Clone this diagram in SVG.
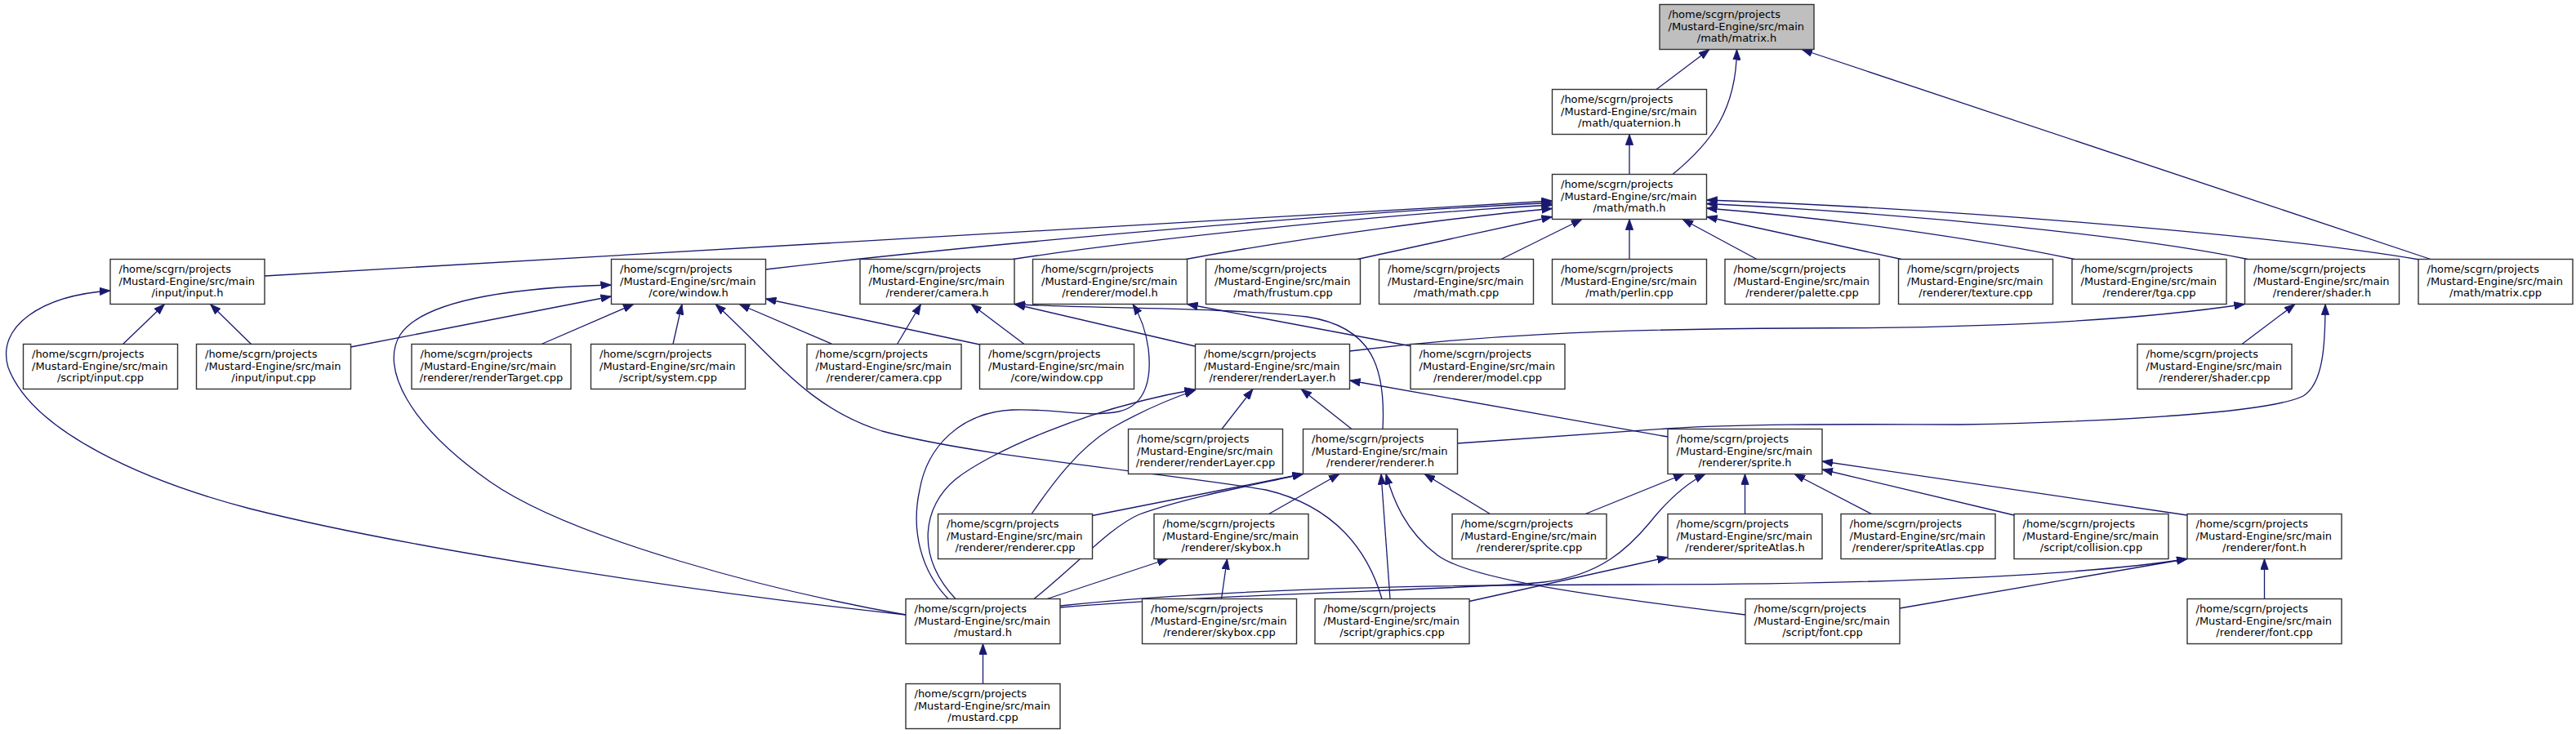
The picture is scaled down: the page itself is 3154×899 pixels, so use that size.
<svg xmlns="http://www.w3.org/2000/svg" width="3154" height="899" viewBox="0 0 3154 899">
<style>
.n rect{fill:#fff;stroke:#333;stroke-width:1.4}
.hl rect{fill:#bfbfbf}
.n text{font-family:"DejaVu Sans","Liberation Sans",sans-serif;font-size:13px;fill:#000}
.n text.c{text-anchor:middle}
#edges path{fill:none;stroke:#191970;stroke-width:1.3;marker-end:url(#ah)}
</style>
<defs>
<marker id="ah" viewBox="0 0 13 10" refX="13" refY="5" markerWidth="13" markerHeight="10" markerUnits="userSpaceOnUse" orient="auto">
<path d="M0,0.3 L13,5 L0,9.7 z" fill="#191970" stroke="#191970" stroke-width="0.8"/>
</marker>
</defs>
<rect width="3154" height="899" fill="#fff"/>
<g id="edges">
<path d="M2028,109.5 L2093,60.5"/>
<path d="M2048,213.5 C2095,175 2126,135 2126.5,60.5"/>
<path d="M2976,317.5 L2206,60.5"/>
<path d="M1995,213.5 L1995,164.5"/>
<path d="M324,338 L1900.5,246"/>
<path d="M937.5,330 C1150,305 1600,262 1900.5,248.5"/>
<path d="M1240,317.5 C1400,293 1700,262 1900.5,251"/>
<path d="M1452,317.5 C1600,290 1800,264 1900.5,255.5"/>
<path d="M1662,317.5 L1900.5,265.5"/>
<path d="M1838,317.5 L1937,268.5"/>
<path d="M1995,317.5 L1995,268.5"/>
<path d="M2151,317.5 L2060,268.5"/>
<path d="M2328,317.5 L2089.5,265.5"/>
<path d="M2540,317.5 C2420,292 2250,268 2089.5,255"/>
<path d="M2752,317.5 C2620,290 2350,262 2089.5,249.5"/>
<path d="M2962,318 C2800,290 2400,256 2089.5,245"/>
<path d="M150.5,421.5 L201.5,372.5"/>
<path d="M307.5,421.5 L257.5,372.5"/>
<path d="M1109,753 C850,725 500,672 306,623 C180,590 40,530 10,450 C-5,400 50,362 135,356"/>
<path d="M429.5,425 L748.5,363"/>
<path d="M663,421.5 L776,372.5"/>
<path d="M824,421.5 L835,372.5"/>
<path d="M1019,421.5 L905,372.5"/>
<path d="M1199.5,422 L937.5,366"/>
<path d="M1109,753 C950,725 700,660 600,590 C500,520 465,450 490,410 C520,365 640,352 748.5,349"/>
<path d="M1692,733.5 C1675,675 1635,620 1550,600 C1420,578 1200,560 1080,528 C990,500 950,440 876,372.5"/>
<path d="M1098.5,421.5 L1127.5,372.5"/>
<path d="M1254,421.5 L1189,372.5"/>
<path d="M1463,424 L1242,372.5"/>
<path d="M1693,525.5 C1697,450 1680,400 1600,388 C1500,376 1320,378 1242,372.5"/>
<path d="M1728,424 L1453.5,372.5"/>
<path d="M1161,733.5 C1128,700 1115,650 1126,600 C1135,548 1175,505 1240,502 C1290,500 1330,512 1370,504 C1405,496 1410,460 1406,427 C1403,405 1395,385 1387,372.5"/>
<path d="M1170,733.5 C1120,680 1130,620 1170,587 C1210,555 1330,500 1463.5,477"/>
<path d="M1263,629.5 C1290,590 1320,550 1360,525 C1400,502 1440,486 1463.5,478"/>
<path d="M1496,525.5 L1534,476.5"/>
<path d="M1655,525.5 L1593,476.5"/>
<path d="M2042,535 L1652.5,466"/>
<path d="M1652.5,430 C1800,412 1950,403 2200,402 C2450,402 2620,392 2748.5,372.5"/>
<path d="M1784.5,543 L2040,525 C2150,518 2300,520 2400,520 C2600,516 2780,505 2820,485 C2845,470 2847,420 2847,372.5"/>
<path d="M2745,421.5 L2810,372.5"/>
<path d="M1337.5,631.5 L1595.5,580.5"/>
<path d="M1266,733.5 C1320,690 1360,645 1395,630 C1450,610 1530,595 1595.5,580.5"/>
<path d="M1553.5,629.5 L1640,580.5"/>
<path d="M1702,733.5 L1691,580.5"/>
<path d="M2137,753 C1950,730 1800,710 1760,680 C1720,650 1705,610 1697,580.5"/>
<path d="M1824.5,629.5 L1744,580.5"/>
<path d="M1941,629.5 L2062,580.5"/>
<path d="M1298,744 C1500,727 1800,722 1890,713 C1960,705 1995,670 2020,640 C2040,615 2065,592 2088,580.5"/>
<path d="M1298,742 C1500,720 1800,716 2000,716 C2300,716 2550,705 2678,684.5"/>
<path d="M2136.5,629.5 L2136.5,580.5"/>
<path d="M2291.5,629.5 L2197,580.5"/>
<path d="M2466,631 L2231,575"/>
<path d="M2678,631 L2231,565"/>
<path d="M1799,736.5 L2042,682.5"/>
<path d="M2772.5,733.5 L2772.5,684.5"/>
<path d="M2326,745 L2678,684.5"/>
<path d="M1495.5,733.5 L1502.5,684.5"/>
<path d="M1282,733.5 L1430,684.5"/>
<path d="M1203.5,837.5 L1203.5,788.5"/>
</g>
<g id="matrix_h" class="n hl"><rect x="2032" y="5.5" width="189" height="55"/><text x="2042.5" y="22">/home/scgrn/projects</text><text x="2042.5" y="36.5">/Mustard-Engine/src/main</text><text class="c" x="2126.5" y="51">/math/matrix.h</text></g>
<g id="quaternion_h" class="n"><rect x="1900.5" y="109.5" width="189" height="55"/><text x="1911" y="126">/home/scgrn/projects</text><text x="1911" y="140.5">/Mustard-Engine/src/main</text><text class="c" x="1995" y="155">/math/quaternion.h</text></g>
<g id="math_h" class="n"><rect x="1900.5" y="213.5" width="189" height="55"/><text x="1911" y="230">/home/scgrn/projects</text><text x="1911" y="244.5">/Mustard-Engine/src/main</text><text class="c" x="1995" y="259">/math/math.h</text></g>
<g id="input_h" class="n"><rect x="135" y="317.5" width="189" height="55"/><text x="145.5" y="334">/home/scgrn/projects</text><text x="145.5" y="348.5">/Mustard-Engine/src/main</text><text class="c" x="229.5" y="363">/input/input.h</text></g>
<g id="window_h" class="n"><rect x="748.5" y="317.5" width="189" height="55"/><text x="759" y="334">/home/scgrn/projects</text><text x="759" y="348.5">/Mustard-Engine/src/main</text><text class="c" x="843" y="363">/core/window.h</text></g>
<g id="camera_h" class="n"><rect x="1053" y="317.5" width="189" height="55"/><text x="1063.5" y="334">/home/scgrn/projects</text><text x="1063.5" y="348.5">/Mustard-Engine/src/main</text><text class="c" x="1147.5" y="363">/renderer/camera.h</text></g>
<g id="model_h" class="n"><rect x="1264.5" y="317.5" width="189" height="55"/><text x="1275" y="334">/home/scgrn/projects</text><text x="1275" y="348.5">/Mustard-Engine/src/main</text><text class="c" x="1359" y="363">/renderer/model.h</text></g>
<g id="frustum_cpp" class="n"><rect x="1476.5" y="317.5" width="189" height="55"/><text x="1487" y="334">/home/scgrn/projects</text><text x="1487" y="348.5">/Mustard-Engine/src/main</text><text class="c" x="1571" y="363">/math/frustum.cpp</text></g>
<g id="math_cpp" class="n"><rect x="1688.5" y="317.5" width="189" height="55"/><text x="1699" y="334">/home/scgrn/projects</text><text x="1699" y="348.5">/Mustard-Engine/src/main</text><text class="c" x="1783" y="363">/math/math.cpp</text></g>
<g id="perlin_cpp" class="n"><rect x="1900.5" y="317.5" width="189" height="55"/><text x="1911" y="334">/home/scgrn/projects</text><text x="1911" y="348.5">/Mustard-Engine/src/main</text><text class="c" x="1995" y="363">/math/perlin.cpp</text></g>
<g id="palette_cpp" class="n"><rect x="2112" y="317.5" width="189" height="55"/><text x="2122.5" y="334">/home/scgrn/projects</text><text x="2122.5" y="348.5">/Mustard-Engine/src/main</text><text class="c" x="2206.5" y="363">/renderer/palette.cpp</text></g>
<g id="texture_cpp" class="n"><rect x="2324.5" y="317.5" width="189" height="55"/><text x="2335" y="334">/home/scgrn/projects</text><text x="2335" y="348.5">/Mustard-Engine/src/main</text><text class="c" x="2419" y="363">/renderer/texture.cpp</text></g>
<g id="tga_cpp" class="n"><rect x="2537" y="317.5" width="189" height="55"/><text x="2547.5" y="334">/home/scgrn/projects</text><text x="2547.5" y="348.5">/Mustard-Engine/src/main</text><text class="c" x="2631.5" y="363">/renderer/tga.cpp</text></g>
<g id="shader_h" class="n"><rect x="2748.5" y="317.5" width="189" height="55"/><text x="2759" y="334">/home/scgrn/projects</text><text x="2759" y="348.5">/Mustard-Engine/src/main</text><text class="c" x="2843" y="363">/renderer/shader.h</text></g>
<g id="matrix_cpp" class="n"><rect x="2961" y="317.5" width="189" height="55"/><text x="2971.5" y="334">/home/scgrn/projects</text><text x="2971.5" y="348.5">/Mustard-Engine/src/main</text><text class="c" x="3055.5" y="363">/math/matrix.cpp</text></g>
<g id="script_input_cpp" class="n"><rect x="28.5" y="421.5" width="189" height="55"/><text x="39" y="438">/home/scgrn/projects</text><text x="39" y="452.5">/Mustard-Engine/src/main</text><text class="c" x="123" y="467">/script/input.cpp</text></g>
<g id="input_input_cpp" class="n"><rect x="240.5" y="421.5" width="189" height="55"/><text x="251" y="438">/home/scgrn/projects</text><text x="251" y="452.5">/Mustard-Engine/src/main</text><text class="c" x="335" y="467">/input/input.cpp</text></g>
<g id="renderTarget_cpp" class="n"><rect x="504" y="421.5" width="195" height="55"/><text x="514.5" y="438">/home/scgrn/projects</text><text x="514.5" y="452.5">/Mustard-Engine/src/main</text><text class="c" x="601.5" y="467">/renderer/renderTarget.cpp</text></g>
<g id="system_cpp" class="n"><rect x="723.5" y="421.5" width="189" height="55"/><text x="734" y="438">/home/scgrn/projects</text><text x="734" y="452.5">/Mustard-Engine/src/main</text><text class="c" x="818" y="467">/script/system.cpp</text></g>
<g id="camera_cpp" class="n"><rect x="988" y="421.5" width="189" height="55"/><text x="998.5" y="438">/home/scgrn/projects</text><text x="998.5" y="452.5">/Mustard-Engine/src/main</text><text class="c" x="1082.5" y="467">/renderer/camera.cpp</text></g>
<g id="window_cpp" class="n"><rect x="1199.5" y="421.5" width="189" height="55"/><text x="1210" y="438">/home/scgrn/projects</text><text x="1210" y="452.5">/Mustard-Engine/src/main</text><text class="c" x="1294" y="467">/core/window.cpp</text></g>
<g id="renderLayer_h" class="n"><rect x="1463.5" y="421.5" width="189" height="55"/><text x="1474" y="438">/home/scgrn/projects</text><text x="1474" y="452.5">/Mustard-Engine/src/main</text><text class="c" x="1558" y="467">/renderer/renderLayer.h</text></g>
<g id="model_cpp" class="n"><rect x="1727" y="421.5" width="189" height="55"/><text x="1737.5" y="438">/home/scgrn/projects</text><text x="1737.5" y="452.5">/Mustard-Engine/src/main</text><text class="c" x="1821.5" y="467">/renderer/model.cpp</text></g>
<g id="shader_cpp" class="n"><rect x="2617" y="421.5" width="189" height="55"/><text x="2627.5" y="438">/home/scgrn/projects</text><text x="2627.5" y="452.5">/Mustard-Engine/src/main</text><text class="c" x="2711.5" y="467">/renderer/shader.cpp</text></g>
<g id="renderLayer_cpp" class="n"><rect x="1381.5" y="525.5" width="189" height="55"/><text x="1392" y="542">/home/scgrn/projects</text><text x="1392" y="556.5">/Mustard-Engine/src/main</text><text class="c" x="1476" y="571">/renderer/renderLayer.cpp</text></g>
<g id="renderer_h" class="n"><rect x="1595.5" y="525.5" width="189" height="55"/><text x="1606" y="542">/home/scgrn/projects</text><text x="1606" y="556.5">/Mustard-Engine/src/main</text><text class="c" x="1690" y="571">/renderer/renderer.h</text></g>
<g id="sprite_h" class="n"><rect x="2042" y="525.5" width="189" height="55"/><text x="2052.5" y="542">/home/scgrn/projects</text><text x="2052.5" y="556.5">/Mustard-Engine/src/main</text><text class="c" x="2136.5" y="571">/renderer/sprite.h</text></g>
<g id="renderer_cpp" class="n"><rect x="1148.5" y="629.5" width="189" height="55"/><text x="1159" y="646">/home/scgrn/projects</text><text x="1159" y="660.5">/Mustard-Engine/src/main</text><text class="c" x="1243" y="675">/renderer/renderer.cpp</text></g>
<g id="skybox_h" class="n"><rect x="1413" y="629.5" width="189" height="55"/><text x="1423.5" y="646">/home/scgrn/projects</text><text x="1423.5" y="660.5">/Mustard-Engine/src/main</text><text class="c" x="1507.5" y="675">/renderer/skybox.h</text></g>
<g id="sprite_cpp" class="n"><rect x="1778" y="629.5" width="189" height="55"/><text x="1788.5" y="646">/home/scgrn/projects</text><text x="1788.5" y="660.5">/Mustard-Engine/src/main</text><text class="c" x="1872.5" y="675">/renderer/sprite.cpp</text></g>
<g id="spriteAtlas_h" class="n"><rect x="2042" y="629.5" width="189" height="55"/><text x="2052.5" y="646">/home/scgrn/projects</text><text x="2052.5" y="660.5">/Mustard-Engine/src/main</text><text class="c" x="2136.5" y="675">/renderer/spriteAtlas.h</text></g>
<g id="spriteAtlas_cpp" class="n"><rect x="2254" y="629.5" width="189" height="55"/><text x="2264.5" y="646">/home/scgrn/projects</text><text x="2264.5" y="660.5">/Mustard-Engine/src/main</text><text class="c" x="2348.5" y="675">/renderer/spriteAtlas.cpp</text></g>
<g id="collision_cpp" class="n"><rect x="2466" y="629.5" width="189" height="55"/><text x="2476.5" y="646">/home/scgrn/projects</text><text x="2476.5" y="660.5">/Mustard-Engine/src/main</text><text class="c" x="2560.5" y="675">/script/collision.cpp</text></g>
<g id="font_h" class="n"><rect x="2678" y="629.5" width="189" height="55"/><text x="2688.5" y="646">/home/scgrn/projects</text><text x="2688.5" y="660.5">/Mustard-Engine/src/main</text><text class="c" x="2772.5" y="675">/renderer/font.h</text></g>
<g id="mustard_h" class="n"><rect x="1109" y="733.5" width="189" height="55"/><text x="1119.5" y="750">/home/scgrn/projects</text><text x="1119.5" y="764.5">/Mustard-Engine/src/main</text><text class="c" x="1203.5" y="779">/mustard.h</text></g>
<g id="skybox_cpp" class="n"><rect x="1398.5" y="733.5" width="189" height="55"/><text x="1409" y="750">/home/scgrn/projects</text><text x="1409" y="764.5">/Mustard-Engine/src/main</text><text class="c" x="1493" y="779">/renderer/skybox.cpp</text></g>
<g id="graphics_cpp" class="n"><rect x="1610" y="733.5" width="189" height="55"/><text x="1620.5" y="750">/home/scgrn/projects</text><text x="1620.5" y="764.5">/Mustard-Engine/src/main</text><text class="c" x="1704.5" y="779">/script/graphics.cpp</text></g>
<g id="script_font_cpp" class="n"><rect x="2137" y="733.5" width="189" height="55"/><text x="2147.5" y="750">/home/scgrn/projects</text><text x="2147.5" y="764.5">/Mustard-Engine/src/main</text><text class="c" x="2231.5" y="779">/script/font.cpp</text></g>
<g id="renderer_font_cpp" class="n"><rect x="2678" y="733.5" width="189" height="55"/><text x="2688.5" y="750">/home/scgrn/projects</text><text x="2688.5" y="764.5">/Mustard-Engine/src/main</text><text class="c" x="2772.5" y="779">/renderer/font.cpp</text></g>
<g id="mustard_cpp" class="n"><rect x="1109" y="837.5" width="189" height="55"/><text x="1119.5" y="854">/home/scgrn/projects</text><text x="1119.5" y="868.5">/Mustard-Engine/src/main</text><text class="c" x="1203.5" y="883">/mustard.cpp</text></g>
</svg>
